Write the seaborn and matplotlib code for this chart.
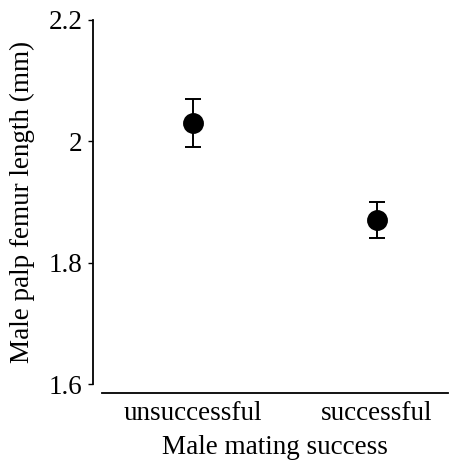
import matplotlib
matplotlib.use("Agg")
import matplotlib.pyplot as plt
import seaborn as sns
import pandas as pd
import numpy as np

categories = ["unsuccessful", "successful"]
means = [2.03, 1.87]
err_low = [1.99, 1.84]
err_high = [2.07, 1.90]
yticks = [1.6, 1.8, 2.0, 2.2]
ytick_labels = ["1.6", "1.8", "2", "2.2"]

sns.set_style("ticks")
plt.rcParams["font.family"] = ["Liberation Serif", "DejaVu Serif"]
plt.rcParams["text.color"] = "black"
plt.rcParams["axes.labelcolor"] = "black"

df = pd.DataFrame({"success": categories, "length": means})

fig = plt.figure(figsize=(4.61, 4.73), dpi=100)
ax = fig.add_axes([102 / 461, 1 - 384 / 473, (448 - 102) / 461, (384 - 20) / 473])

sns.pointplot(data=df, x="success", y="length", order=categories,
              errorbar=None, linestyle="none", color="black",
              markersize=13, ax=ax)

xpos = np.arange(len(categories))
m = np.array(means)
lo = m - np.array(err_low)
hi = np.array(err_high) - m
ax.errorbar(xpos, m, yerr=[lo, hi], fmt="none", ecolor="black",
            elinewidth=1.4, capsize=6, capthick=1.4, zorder=1)

ax.set_ylim(1.6, 2.2)
ax.set_xlim(-0.495, 1.386)
ax.set_yticks(yticks)
ax.set_yticklabels(ytick_labels)

for s in ["top", "right"]:
    ax.spines[s].set_visible(False)
ax.spines["left"].set_position(("outward", 6.5))
ax.spines["bottom"].set_position(("outward", 6.5))
for s in ["left", "bottom"]:
    ax.spines[s].set_linewidth(1.3)
    ax.spines[s].set_color("black")

ax.tick_params(axis="y", length=3.5, width=1.0, pad=4, labelsize=19.5,
               colors="black", labelcolor="black")
ax.tick_params(axis="x", length=0, pad=6, labelsize=19.5, labelcolor="black")

ax.set_xlabel("Male mating success", fontsize=19.5, labelpad=6, color="black")
ax.set_ylabel("Male palp femur length (mm)", fontsize=19.5, labelpad=10, color="black")

fig.savefig("out.png", dpi=100)
